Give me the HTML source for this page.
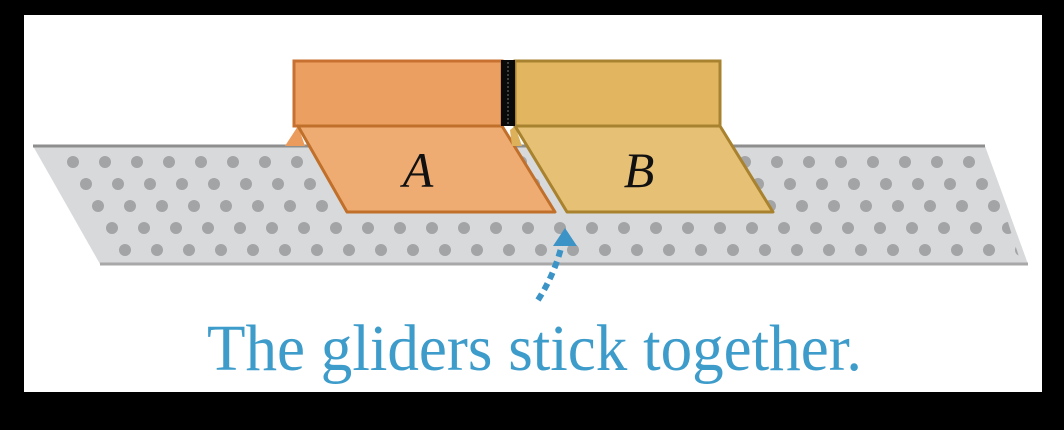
<!DOCTYPE html>
<html><head><meta charset="utf-8"><style>
html,body{margin:0;padding:0;background:#000;}
svg{display:block;}
</style></head><body>
<svg width="1064" height="430" viewBox="0 0 1064 430" xmlns="http://www.w3.org/2000/svg">
<defs>
<pattern id="holes" x="0" y="151" width="32" height="110" patternUnits="userSpaceOnUse">
<g fill="#a3a4a6">
<circle cx="9" cy="11" r="6"/>
<circle cx="22" cy="33" r="6"/>
<circle cx="2" cy="55" r="6"/><circle cx="34" cy="55" r="6"/>
<circle cx="16" cy="77" r="6"/>
<circle cx="29" cy="99" r="6"/><circle cx="-3" cy="99" r="6"/>
</g>
</pattern>
</defs>
<rect x="0" y="0" width="1064" height="430" fill="#000"/>
<rect x="24" y="15" width="1018" height="377" fill="#fff"/>
<g>
<polygon points="33,146 985,146 1028,264 100,264" fill="#d8d9db"/>
<polygon points="60,150 985,150 1020,260 110,260" fill="url(#holes)"/>
<line x1="33" y1="146" x2="985" y2="146" stroke="#8e8e8e" stroke-width="3"/>
<line x1="100" y1="264" x2="1028" y2="264" stroke="#a8a8a8" stroke-width="3"/>
</g>
<g>
<polygon points="285,146 298,126 305,146" fill="#eb9c5c"/>
<rect x="294" y="61" width="208" height="65" fill="#eba062" stroke="#c8702f" stroke-width="3"/>
<polygon points="298,126 502,126 555,212 347,212" fill="#efac72" stroke="#c0702a" stroke-width="3" stroke-linejoin="round"/>
<text x="418" y="187" font-family="Liberation Serif, serif" font-style="italic" font-size="50" fill="#111" text-anchor="middle">A</text>
</g>
<g>
<polygon points="510,130 515,126 522,146 512,146" fill="#ddb05a"/>
<rect x="515" y="61" width="205" height="65" fill="#e2b561" stroke="#a8822e" stroke-width="3"/>
<polygon points="515,126 720,126 773,212 567,212" fill="#e6c075" stroke="#a8822e" stroke-width="3" stroke-linejoin="round"/>
<text x="639" y="187" font-family="Liberation Serif, serif" font-style="italic" font-size="50" fill="#111" text-anchor="middle">B</text>
</g>
<rect x="501" y="60" width="14" height="66" fill="#0a0a0a"/>
<line x1="508" y1="62" x2="508" y2="124" stroke="#777" stroke-width="1" stroke-dasharray="2,2"/>
<g>
<path d="M538,300 Q556,272 563,240" fill="none" stroke="#3b93c6" stroke-width="6" stroke-dasharray="7,5"/>
<polygon points="565,228 553,246 577,246" fill="#3b93c6"/>
</g>
<text x="207" y="370" textLength="655" lengthAdjust="spacingAndGlyphs" font-family="Liberation Serif, serif" font-size="66" fill="#3e9ccb">The gliders stick together.</text>
</svg>
</body></html>
